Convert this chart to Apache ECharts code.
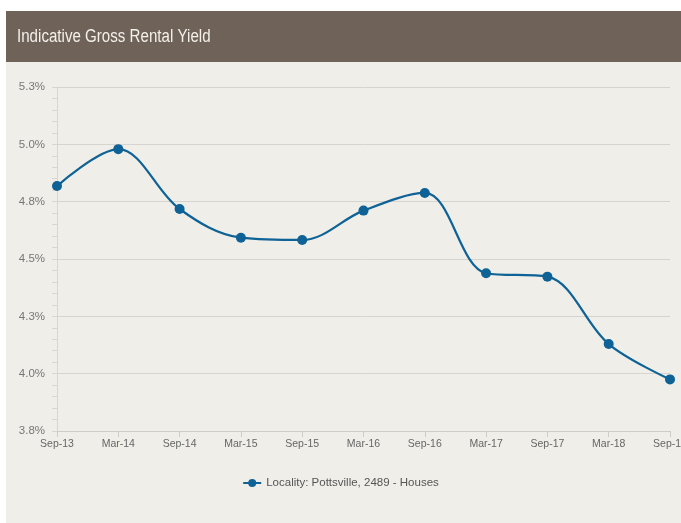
<!DOCTYPE html>
<html>
<head>
<meta charset="utf-8">
<script src="https://cdn.jsdelivr.net/npm/echarts@6/dist/echarts.min.js"></script>
<style>
html,body{margin:0;padding:0;background:#ffffff;}
#c{width:681px;height:523px;}
</style>
</head>
<body>
<div id="c"></div>
<script>
const titleText = 'Indicative Gross Rental Yield';
const seriesName = 'Locality: Pottsville, 2489 - Houses';
const categories = ['Sep-13','Mar-14','Sep-14','Mar-15','Sep-15','Mar-16','Sep-16','Mar-17','Sep-17','Mar-18','Sep-18'];
const yieldValues = [4.818, 4.979, 4.718, 4.593, 4.583, 4.711, 4.788, 4.438, 4.423, 4.129, 3.975];
const yMin = 3.75, yMax = 5.25, yStep = 0.25;

const FONT = '"Liberation Sans Narrow", "Liberation Sans", Arial, sans-serif';
const chart = echarts.init(document.getElementById('c'), null, {renderer:'canvas'});
chart.setOption({
  backgroundColor: '#ffffff',
  animation: false,
  graphic: [
    {type:'rect', left:6, top:62, shape:{width:675, height:461}, style:{fill:'#efeee9'}, z:-10},
    {type:'rect', left:6, top:11, shape:{width:675, height:51}, style:{fill:'#6e6259'}, z:-10},
    {type:'text', x:17, y:28, scaleX:0.84, style:{text:titleText, fill:'#f4f0ea', font:'18px ' + FONT}}
  ],
  grid: {left:57, right:11, top:87, bottom:92, containLabel:false, outerBoundsMode:'none'},
  legend: {
    data:[seriesName],
    bottom:29,
    left:'center',
    itemWidth:18,
    itemHeight:10,
    textStyle:{color:'#555555', fontSize:11.5, fontFamily:FONT}
  },
  xAxis: {
    type:'category',
    data:categories,
    boundaryGap:false,
    axisLine:{lineStyle:{color:'#cfcdc8', width:1}},
    axisTick:{show:true, alignWithLabel:true, length:6, lineStyle:{color:'#cfcdc8'}},
    axisLabel:{color:'#666666', fontSize:10.5, fontFamily:FONT, margin:8, showMaxLabel:true, hideOverlap:false},
    splitLine:{show:false}
  },
  yAxis: {
    type:'value',
    min:yMin, max:yMax, interval:yStep,
    axisLine:{show:true, lineStyle:{color:'#d8d6d1'}},
    axisTick:{show:true, length:5, lineStyle:{color:'#d8d6d1'}},
    minorTick:{show:true, splitNumber:5, length:5, lineStyle:{color:'#d8d6d1'}},
    axisLabel:{color:'#777777', fontSize:11.5, fontFamily:FONT, margin:12,
      formatter: v => v.toFixed(1) + '%'},
    splitLine:{show:true, lineStyle:{color:'#d6d4cf', width:1}}
  },
  series: [{
    name: seriesName,
    type:'line',
    data: yieldValues,
    smooth: 0.35,
    symbol:'circle',
    symbolSize:10,
    showAllSymbol:true,
    clip:false,
    lineStyle:{color:'#0e6296', width:2.2},
    itemStyle:{color:'#0e6296'}
  }]
});
</script>
</body>
</html>
